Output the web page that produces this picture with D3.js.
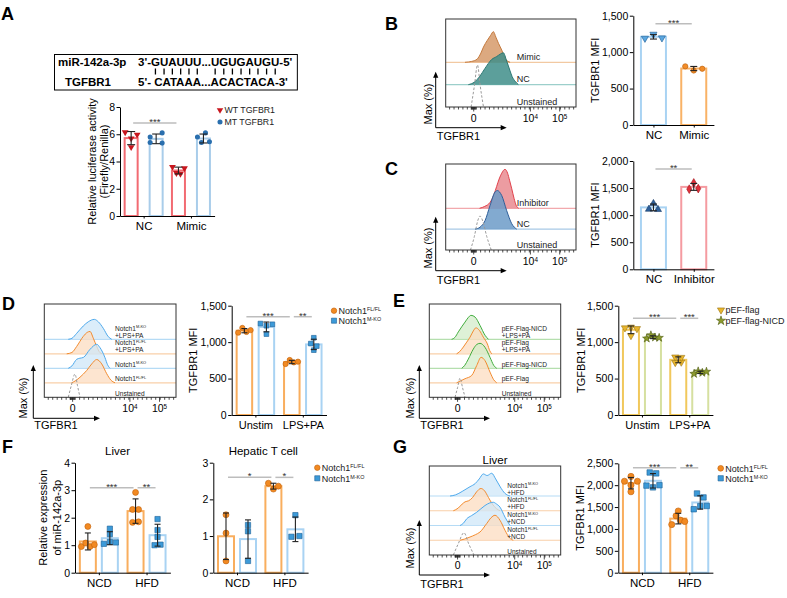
<!DOCTYPE html>
<html><head><meta charset="utf-8">
<script src="https://cdn.jsdelivr.net/npm/d3@7"></script>
<style>html,body{margin:0;padding:0;background:#fff;}svg{display:block;}</style>
</head><body>
<svg id="fig" width="787" height="598" xmlns="http://www.w3.org/2000/svg"></svg>
<script>
const FONT = '"Liberation Sans", Arial, Helvetica, sans-serif';

/* ================= DATA ================= */
const panelLetters = ["A","B","C","D","E","F","G"];

// Panel A
const aGroups = ["NC", "Mimic"];
const aSeries = ["WT TGFBR1", "MT TGFBR1"];
const aWT = [[6.15, 5.05, 5.7, 5.97], [3.6, 3.15, 3.1, 3.5]];
const aMT = [[5.8, 5.4, 6.1, 5.35], [5.8, 5.4, 6.1, 5.45]];
const aTicks = [0, 2, 4, 6, 8];
const aYLabel = ["Relative luciferase activity", "(Firefly/Renilla)"];
const seqMiRName = "miR-142a-3p";
const seqMiR = "3'-GUAUUU...UGUGAUGU-5'";
const seqTgtName = "TGFBR1";
const seqTgt = "5'- CATAAA...ACACTACA-3'";
const seqPairIdx = [3,4,5,6,7,8,12,13,14,15,16,17,18,19];

// Flow axis
const flowTickLabels = ["0", "10^4", "10^5"];
const flowTickPos = [21.5, 65, 87.5];
const flowXLabel = "TGFBR1";
const flowYLabel = "Max (%)";

// Panel B
const bRows = ["Mimic", "NC", "Unstained"];
const bPeaks = [73, 76, 100];
const bMimicHist = [[14.8,0],[20,0.03],[24,0.1],[27,0.3],[29,0.5],[32,0.72],[34.5,0.88],[36.6,1],[38.5,0.82],[40.5,0.62],[43,0.4],[45.5,0.13],[47.5,0.04],[49.4,0]];
const bNCHist = [[17.4,0],[22,0.08],[26.3,0.27],[30,0.5],[35.3,0.79],[39.1,0.88],[42,0.96],[44.2,1],[46.8,0.74],[49.4,0.43],[51,0.25],[53.2,0.11],[55.8,0]];
const bUnstHist = [[19.5,0],[22,0.5],[24.4,1],[26.5,0.5],[29,0]];
const bGroups = ["NC", "Mimic"];
const bVals = [[1190, 1245, 1195], [805, 748, 772]];
const mfiTicks1500 = [0, 500, 1000, 1500];

// Panel C
const cRows = ["Inhibitor", "NC", "Unstained"];
const cPeaks = [100, 99, 87];
const cInhHist = [[26,0],[30,0.05],[34,0.15],[37,0.35],[39.1,0.56],[41,0.75],[43,0.9],[45.5,1],[47.5,0.9],[49,0.72],[50.7,0.5],[52.5,0.25],[54,0.08],[56,0]];
const cNCHist = [[22.5,0],[26.3,0.05],[30.2,0.22],[34,0.61],[37.8,0.96],[39.6,1],[43,0.87],[46.8,0.48],[50.7,0.14],[54.5,0]];
const cUnstHist = [[19,0],[22,0.4],[24.5,0.85],[26.3,1],[28.5,0.85],[31.5,0.4],[35,0]];
const cGroups = ["NC", "Inhibitor"];
const cVals = [[1110, 1215, 1105], [1595, 1480, 1490]];
const mfiTicks2000 = [0, 500, 1000, 1500, 2000];

// Panel D
const dRowLabels = [["Notch1^M-KO","+LPS+PA"],["Notch1^FL/FL","+LPS+PA"],["Notch1^M-KO"],["Notch1^FL/FL"],["Unstained"]];
const dPeaks = [83, 93, 100, 97, 97];
const dHists = [
  [[18.2,0],[21,0.05],[24.6,0.3],[29.6,0.67],[33.4,0.88],[38,1],[41,0.88],[44.8,0.55],[48.6,0.13],[51.2,0]],
  [[17,0],[21,0.06],[24.6,0.33],[29.6,0.78],[32.6,0.96],[34.7,1],[37.2,0.7],[39.8,0.33],[42.3,0.05],[44,0]],
  [[18.2,0],[21,0.1],[24.6,0.375],[27,0.42],[29.6,0.45],[34.7,0.79],[39.8,1],[42.3,0.86],[46.1,0.44],[48,0.15],[49.9,0]],
  [[20.8,0],[24,0.1],[27.1,0.24],[32.2,0.53],[36,0.81],[39.8,1],[43.6,0.81],[47.4,0.39],[50.5,0.12],[53.7,0]],
  [[18.2,0],[20.5,0.5],[23.3,1],[25.2,0.5],[27.1,0]]
];
const dGroups = ["Unstim", "LPS+PA"];
const dLegend = ["Notch1^FL/FL", "Notch1^M-KO"];
const dFL = [[1130, 1195, 1140, 1165], [700, 755, 722, 732]];
const dMKO = [[1255, 1225, 1110, 1245], [890, 1060, 980, 945]];

// Panel E
const eRowLabels = [["pEF-Flag-NICD","+LPS+PA"],["pEF-Flag","+LPS+PA"],["pEF-Flag-NICD"],["pEF-Flag"],["Unstained"]];
const ePeaks = [92, 100, 96, 98, 74];
const eHists = [
  [[17,0],[19.5,0.08],[22.1,0.31],[25,0.55],[27.2,0.72],[29.5,0.9],[31.7,1],[34.8,0.93],[38.6,0.58],[42.4,0.17],[45,0]],
  [[20.8,0],[23,0.08],[25.9,0.26],[28.5,0.45],[31,0.64],[33.5,0.88],[35.5,1],[38.1,0.9],[41.1,0.64],[44.2,0.38],[46,0.12],[47.5,0]],
  [[24.7,0],[27,0.12],[29.7,0.37],[33.5,0.77],[36,0.95],[38.6,1],[42.4,0.84],[46.2,0.44],[49,0.12],[51.3,0]],
  [[20.8,0],[24,0.08],[27.2,0.16],[32.3,0.29],[36.1,0.68],[39.4,1],[42.4,0.87],[46.2,0.42],[49,0.12],[51.3,0]],
  [[19.6,0],[21.5,0.5],[23.4,1],[25.3,0.5],[27.2,0]]
];
const eGroups = ["Unstim", "LPS+PA"];
const eLegend = ["pEF-flag", "pEF-flag-NICD"];
const eFlag = [[1195, 1205, 1185, 1090], [795, 720, 725, 790]];
const eNICD = [[1050, 1095, 1065, 1060], [565, 600, 580, 595]];

// Panel F
const fGroups = ["NCD", "HFD"];
const fTitles = ["Liver", "Hepatic T cell"];
const fYLabel = ["Relative expression", "of miR-142a-3p"];
const fLiverFL = [[0.95, 1.08, 1.68, 0.95, 1.02], [1.83, 2.3, 2.92, 2.3, 1.85]];
const fLiverMKO = [[1.05, 1.6, 1.4, 1.12, 1.1], [1.0, 1.95, 1.55, 1.3, 1.02]];
const fTicksLiver = [0, 1, 2, 3, 4];
const fTcellFL = [[1.58, 1.08, 0.32], [2.44, 2.28, 2.36]];
const fTcellMKO = [[1.3, 1.13, 0.32], [0.98, 1.57, 1.0]];
const fTicksTcell = [0, 1, 2, 3];

// Panel G
const gTitle = "Liver";
const gRowLabels = [["Notch1^M-KO","+HFD"],["Notch1^FL/FL","+HFD"],["Notch1^M-KO","+NCD"],["Notch1^FL/FL","+NCD"],["Unstained"]];
const gPeaks = [91, 89, 93, 100, 89];
const gHists = [
  [[15.8,0],[20,0.05],[25,0.2],[31,0.41],[35,0.55],[38,0.75],[41.1,0.97],[44,0.9],[47.5,1],[50.5,0.75],[54,0.4],[57.5,0.12],[61.4,0]],
  [[18.3,0],[22,0.12],[25,0.3],[27.2,0.4],[30,0.45],[33,0.6],[36,0.85],[39.3,1],[42,0.9],[45,0.6],[48,0.3],[51,0.1],[53.8,0]],
  [[23.4,0],[26,0.1],[28.5,0.29],[32,0.42],[36.1,0.57],[42.4,0.86],[46,0.97],[48.7,1],[51,0.93],[53.8,0.79],[57.6,0.36],[61.4,0]],
  [[23.4,0],[27,0.05],[31,0.13],[35,0.22],[38.6,0.33],[43.7,0.67],[47,0.9],[50,1],[53.8,0.8],[57.6,0.4],[61,0.1],[63.9,0]],
  [[18.3,0],[22,0.5],[26.4,1],[30,0.5],[34,0]]
];
const gGroups = ["NCD", "HFD"];
const gFL = [[2090, 2000, 2090, 2200, 1850], [1100, 1410, 1300, 1200, 1170]];
const gMKO = [[2290, 2270, 1990, 1950, 2000], [1810, 1720, 1450, 1520, 1525]];
const gTicks = [0, 500, 1000, 1500, 2000, 2500];

/* ================= HELPERS ================= */
const svg = d3.select("#fig").attr("font-family", FONT);

function rich(sel, str, fs){
  const parts = str.split("^");
  sel.append("tspan").text(parts[0]);
  if (parts.length > 1) sel.append("tspan").attr("font-size", fs*0.6).attr("dy", -fs*0.33).text(parts[1]);
  return sel;
}
const SYM = {
  triDown:[d3.symbolTriangle,180], triUp:[d3.symbolTriangle,0], circle:[d3.symbolCircle,0],
  square:[d3.symbolSquare,0], diamond:[d3.symbolDiamond,0], star:[d3.symbolStar,0]
};
function marker(g, kind, x, y, size, fill, stroke){
  const [t, r] = SYM[kind];
  return g.append("path").attr("d", d3.symbol(t, size)())
    .attr("transform", `translate(${x},${y}) rotate(${r})`)
    .attr("fill", fill).attr("stroke", stroke || "none").attr("stroke-width", 0.6);
}
function swarm(vals, y, thr, mMax, spread){
  const order = d3.range(vals.length).sort((a,b)=>vals[a]-vals[b]);
  const off = vals.map(()=>0);
  let cl = [order[0]];
  const flush = () => {
    const c = cl.slice().sort((a,b)=>a-b), k = c.length;
    const m = k > 1 ? Math.min(mMax, spread/(k-1)) : 0;
    c.forEach((id,i)=>off[id]=(i-(k-1)/2)*m);
  };
  for (let i=1;i<order.length;i++){
    if (Math.abs(y(vals[order[i]]) - y(vals[order[i-1]])) < thr) cl.push(order[i]);
    else { flush(); cl = [order[i]]; }
  }
  flush();
  return off;
}

function barChart(c){
  const g = svg.append("g");
  const x = d3.scalePoint().domain(c.groups).range(c.xr).padding(0.5);
  const sNames = Array.from(new Set(c.bars.map(b=>b.s)));
  const s = d3.scalePoint().domain(sNames).range([-c.dist, c.dist]);
  const y = d3.scaleLinear().domain([0, d3.max(c.ticks)]).range(c.yr);
  const cx = b => x(b.g) + s(b.s);
  c.bars.forEach(b=>{
    const m = d3.mean(b.values);
    g.append("rect").attr("x", cx(b)-c.bw/2+1).attr("y", y(m)).attr("width", c.bw-2).attr("height", y(0)-y(m))
      .attr("fill","#fff").attr("stroke", b.bar).attr("stroke-width", 2);
  });
  const ya = g.append("g").attr("transform",`translate(${c.xr[0]},0)`)
    .call(d3.axisLeft(y).tickValues(c.ticks).tickFormat(c.fmt || d3.format(",")).tickSize(3.5).tickSizeOuter(0).tickPadding(1.5));
  const xa = g.append("g").attr("transform",`translate(0,${c.yr[0]})`)
    .call(d3.axisBottom(x).tickSize(2.5).tickSizeOuter(0).tickPadding(3.5));
  [ya, xa].forEach(a=>{
    a.attr("font-family", FONT).attr("font-size", 10.5);
    a.selectAll("path,line").attr("stroke","#000").attr("stroke-width",1);
    a.selectAll("text").attr("fill","#000");
  });
  xa.attr("font-size", c.xfs || 11.5);
  c.bars.forEach(b=>{
    const m = d3.mean(b.values), sd = d3.deviation(b.values);
    const off = swarm(b.values, y, c.thr, c.m, c.spread);
    b.values.forEach((v,i)=> marker(g, b.marker, cx(b)+off[i], y(v), c.size, b.fill, b.stroke));
    const e = g.append("g").attr("stroke", "#222").attr("stroke-width", 1.1);
    e.append("line").attr("x1",cx(b)).attr("x2",cx(b)).attr("y1",y(m-sd)).attr("y2",y(m+sd));
    [m-sd, m+sd].forEach(v=> e.append("line").attr("x1",cx(b)-c.cap).attr("x2",cx(b)+c.cap).attr("y1",y(v)).attr("y2",y(v)));
  });
  (c.sigs||[]).forEach(sg=>{
    const x1 = x(sg.from[0]) + s(sg.from[1]) + 2, x2 = x(sg.to[0]) + s(sg.to[1]) - 2, yy = y(sg.y);
    g.append("line").attr("x1",x1).attr("x2",x2).attr("y1",yy).attr("y2",yy).attr("stroke","#bdbdbd").attr("stroke-width",1.5);
    g.append("text").attr("x",(x1+x2)/2).attr("y",yy+1.8).attr("text-anchor","middle").attr("font-size",9.5).attr("fill","#333").text(sg.label);
  });
  if (c.legend){
    c.legend.items.forEach((it,i)=>{
      const ly = c.legend.y + i*c.legend.dy;
      marker(g, it.marker, c.legend.x, ly, it.size, it.fill, it.stroke);
      rich(g.append("text").attr("x", c.legend.x+4.5).attr("y", ly+3.2).attr("font-size", c.legend.fs).attr("fill","#222"), it.label, c.legend.fs);
    });
  }
  (c.ylab||[]).forEach((t,i)=> g.append("text")
    .attr("transform",`translate(${c.ylabX[i]},${(c.yr[0]+c.yr[1])/2}) rotate(-90)`)
    .attr("text-anchor","middle").attr("dominant-baseline","central").attr("font-size", c.ylfs || 11).text(t));
  if (c.title) g.append("text").attr("x", c.title.x).attr("y", c.title.y).attr("text-anchor","middle").attr("font-size",11.5).text(c.title.text);
}

const HS = {
  bMimic:{fill:"#d69a6a", stroke:"#c47a3e", base:"#f2c9a2"},
  bNC:{fill:"#3f8e89", stroke:"#2c7772", base:"#9ccfcb"},
  cInh:{fill:"#e98b90", stroke:"#e0414b", base:"#f2a9ad"},
  cNC:{fill:"#6c9bc8", stroke:"#2f5f99", base:"#a7c9e6"},
  blue:{fill:"#cfe7f8", stroke:"#4ea9ec", base:"#b5dbf5"},
  orange:{fill:"#fcdcc0", stroke:"#f28b2f", base:"#f9cfa8"},
  green:{fill:"#d3ecca", stroke:"#41ad3d", base:"#b5dfae"},
  unst:{}
};
const flowMinor = d3.range(3, 100, 3.4).concat(d3.range(19.6, 23.6, 0.5));

function flowPanel(c){
  const g = svg.append("g");
  const [x0,y0,x1,y1] = c.box;
  const xs = d3.scaleLinear().domain([0,100]).range([x0,x1]);
  const rowY = d3.scalePoint().domain(d3.range(c.rows.length)).range([c.firstBase, y1]);
  const hs = d3.scaleLinear().domain([0,100]).range([0,c.H]);
  const cid = "clip"+c.id;
  svg.append("defs").append("clipPath").attr("id",cid).append("rect")
    .attr("x",x0).attr("y",y0).attr("width",x1-x0).attr("height",y1-y0);
  const inner = g.append("g").attr("clip-path",`url(#${cid})`);
  c.rows.forEach((r,i)=>{
    const base = rowY(i), st = HS[r.style];
    const yv = d => base - hs(d[1]*r.peak);
    if (r.style === "unst"){
      inner.append("path").attr("d", d3.line().x(d=>xs(d[0])).y(yv).curve(d3.curveMonotoneX)(r.shape))
        .attr("fill","none").attr("stroke","#9a9a9a").attr("stroke-width",1).attr("stroke-dasharray","2.5,1.8");
    } else {
      inner.append("line").attr("x1",x0).attr("x2",x1).attr("y1",base).attr("y2",base).attr("stroke",st.base).attr("stroke-width",1.2);
      inner.append("path").attr("d", d3.area().x(d=>xs(d[0])).y0(base).y1(yv).curve(d3.curveMonotoneX)(r.shape))
        .attr("fill",st.fill).attr("fill-opacity",c.fo);
      inner.append("path").attr("d", d3.line().x(d=>xs(d[0])).y(yv).curve(d3.curveMonotoneX)(r.shape))
        .attr("fill","none").attr("stroke",st.stroke).attr("stroke-width",1);
    }
    const te = g.append("text").attr("font-size",c.lblFS).attr("fill","#222");
    r.label.forEach((t,j)=>{
      const ty = base - c.lblOff - (r.label.length-1-j)*c.lblLH;
      const parts = t.split("^");
      te.append("tspan").attr("x",c.lblX).attr("y",ty).text(parts[0]);
      if (parts.length > 1) te.append("tspan").attr("font-size",c.lblFS*0.6).attr("dy",-c.lblFS*0.33).text(parts[1]);
    });
  });
  g.append("rect").attr("x",x0).attr("y",y0).attr("width",x1-x0).attr("height",y1-y0)
    .attr("fill","none").attr("stroke","#333").attr("stroke-width",1);
  const tg = g.append("g").attr("stroke","#222").attr("stroke-width",0.8);
  flowMinor.forEach(p=> tg.append("line").attr("x1",xs(p)).attr("x2",xs(p)).attr("y1",y1).attr("y2",y1+2.5));
  flowTickPos.forEach((p,i)=>{
    tg.append("line").attr("x1",xs(p)).attr("x2",xs(p)).attr("y1",y1).attr("y2",y1+4.5);
    rich(g.append("text").attr("x",xs(p)).attr("y",y1+c.tickLblOff).attr("text-anchor","middle").attr("font-size",10.5), flowTickLabels[i], 10.5);
  });
  const a = c.arrow, ag = g.append("g");
  ag.append("line").attr("x1",a.x).attr("x2",a.x).attr("y1",a.yb).attr("y2",a.yt+4).attr("stroke","#000").attr("stroke-width",1);
  ag.append("path").attr("d",`M${a.x-2.6},${a.yt+6}L${a.x},${a.yt}L${a.x+2.6},${a.yt+6}Z`).attr("fill","#000");
  ag.append("line").attr("x1",a.x).attr("x2",a.xe-4).attr("y1",a.yb).attr("y2",a.yb).attr("stroke","#000").attr("stroke-width",1);
  ag.append("path").attr("d",`M${a.xe-6},${a.yb-2.6}L${a.xe},${a.yb}L${a.xe-6},${a.yb+2.6}Z`).attr("fill","#000");
  g.append("text").attr("transform",`translate(${c.maxX},${c.maxY}) rotate(-90)`).attr("text-anchor","middle")
    .attr("dominant-baseline","central").attr("font-size",11).text(flowYLabel);
  g.append("text").attr("x",a.x+1).attr("y",c.axLblY).attr("font-size",11).text(flowXLabel);
  if (c.title) g.append("text").attr("x",c.title.x).attr("y",c.title.y).attr("text-anchor","middle").attr("font-size",11.5).text(c.title.text);
}

/* ================= PANEL LETTERS ================= */
const letterPos = [[1,20],[385,30],[385,175],[2,310],[393,307],[2,453],[393,453]];
panelLetters.forEach((L,i)=> svg.append("text").attr("x",letterPos[i][0]).attr("y",letterPos[i][1])
  .attr("font-size",18).attr("font-weight","bold").text(L));

/* ================= PANEL A ================= */
(function(){
  const sg = svg.append("g").attr("font-weight","bold").attr("font-size",11.5);
  sg.append("text").attr("x",58).attr("y",66).text(seqMiRName);
  const top = sg.append("text").attr("x",138).attr("y",66).text(seqMiR);
  sg.append("text").attr("x",65).attr("y",86).text(seqTgtName);
  const bot = sg.append("text").attr("x",138).attr("y",86).text(seqTgt);
  const right = 138 + Math.max(top.node().getComputedTextLength(), bot.node().getComputedTextLength()) + 5;
  sg.append("rect").attr("x",54.5).attr("y",54.5).attr("width",right-54.5).attr("height",35.5)
    .attr("fill","none").attr("stroke","#000").attr("stroke-width",1);
  seqPairIdx.forEach(i=>{
    const r = top.node().getExtentOfChar(i), xm = r.x + r.width/2;
    sg.append("line").attr("x1",xm).attr("x2",xm).attr("y1",68.5).attr("y2",74.5).attr("stroke","#000").attr("stroke-width",1.3);
  });
})();

barChart({
  groups:aGroups, xr:[120,214.6], yr:[216,107], ticks:aTicks, fmt:d3.format("d"),
  dist:12.5, bw:15, thr:5, m:12, spread:12, cap:4, size:20,
  bars: aGroups.flatMap((gn,gi)=>[
    {g:gn, s:"WT", values:aWT[gi], bar:"#f26b72", marker:"triDown", fill:"#c8161e"},
    {g:gn, s:"MT", values:aMT[gi], bar:"#a9cdea", marker:"circle", fill:"#2a6fae"}]),
  sigs:[{from:["NC","WT"], to:["Mimic","WT"], label:"***", y:6.83}],
  legend:{x:220, y:110, dy:12, fs:8.8, items:[
    {marker:"triDown", fill:"#c8161e", size:18, label:aSeries[0]},
    {marker:"circle", fill:"#2a6fae", size:20, label:aSeries[1]}]},
  ylab:aYLabel, ylabX:[92,104], ylfs:11
});

/* ================= PANEL B ================= */
flowPanel({id:"B", box:[445.7,19,576,107], firstBase:62.3, H:42, fo:0.85,
  rows: bRows.map((n,i)=>({label:[n], shape:[bMimicHist,bNCHist,bUnstHist][i], peak:bPeaks[i], style:["bMimic","bNC","unst"][i]})),
  lblX:516.7, lblFS:9, lblOff:2.2, lblLH:0, tickLblOff:15,
  arrow:{x:435.7, yb:127.7, yt:71.7, xe:506.7}, maxX:428, maxY:104, axLblY:140});
barChart({
  groups:bGroups, xr:[633.3,713.9], yr:[125,15.7], ticks:mfiTicks1500, dist:0, bw:27, thr:4, m:9, spread:17, cap:3.5, size:22,
  bars:[{g:"NC", s:"", values:bVals[0], bar:"#a9d3f3", marker:"triDown", fill:"#5aa6df", stroke:"#1d5a92"},
        {g:"Mimic", s:"", values:bVals[1], bar:"#f9b266", marker:"circle", fill:"#f28c28", stroke:"#b85e0a"}],
  sigs:[{from:["NC",""], to:["Mimic",""], label:"***", y:1390}],
  ylab:["TGFBR1 MFI"], ylabX:[595]
});

/* ================= PANEL C ================= */
flowPanel({id:"C", box:[445.7,164,576,250], firstBase:208.3, H:39, fo:0.85,
  rows: cRows.map((n,i)=>({label:[n], shape:[cInhHist,cNCHist,cUnstHist][i], peak:cPeaks[i], style:["cInh","cNC","unst"][i]})),
  lblX:516.7, lblFS:9, lblOff:2.5, lblLH:0, tickLblOff:15,
  arrow:{x:435.7, yb:270.7, yt:216.7, xe:506.7}, maxX:428, maxY:248, axLblY:283.5});
barChart({
  groups:cGroups, xr:[633.3,713.9], yr:[269.3,161], ticks:mfiTicks2000, dist:0, bw:27, thr:4, m:9, spread:17, cap:3.5, size:22,
  bars:[{g:"NC", s:"", values:cVals[0], bar:"#a9d3f3", marker:"triUp", fill:"#2d5f99", stroke:"#1a3d6a"},
        {g:"Inhibitor", s:"", values:cVals[1], bar:"#f59ba1", marker:"diamond", fill:"#e0303a", stroke:"#a01018"}],
  sigs:[{from:["NC",""], to:["Inhibitor",""], label:"**", y:1852}],
  ylab:["TGFBR1 MFI"], ylabX:[595]
});

/* ================= PANEL D ================= */
flowPanel({id:"D", box:[44.3,304,176,397.3], firstBase:339.3, H:24, fo:0.75,
  rows: dRowLabels.map((l,i)=>({label:l, shape:dHists[i], peak:dPeaks[i], style:["blue","orange","blue","orange","unst"][i]})),
  lblX:115, lblFS:6.6, lblOff:1.8, lblLH:7, tickLblOff:15,
  arrow:{x:33.3, yb:418.3, yt:365, xe:100}, maxX:23.3, maxY:398, axLblY:429});
barChart({
  groups:dGroups, xr:[231.7,326.5], yr:[415,305.7], ticks:mfiTicks1500, dist:11, bw:17.5, thr:4, m:6, spread:12.4, cap:3, size:22,
  bars: dGroups.flatMap((gn,gi)=>[
    {g:gn, s:"FL", values:dFL[gi], bar:"#f9ae5e", marker:"circle", fill:"#f28a22", stroke:"#c0600a"},
    {g:gn, s:"MKO", values:dMKO[gi], bar:"#a9d3f3", marker:"square", fill:"#3c9ad8", stroke:"#1d5f96"}]),
  sigs:[{from:["Unstim","FL"], to:["LPS+PA","FL"], label:"***", y:1349},
        {from:["LPS+PA","FL"], to:["LPS+PA","MKO"], label:"**", y:1349}],
  legend:{x:334, y:310.7, dy:10, fs:9, items:[
    {marker:"circle", fill:"#f28a22", stroke:"#c0600a", size:24, label:dLegend[0]},
    {marker:"square", fill:"#3c9ad8", stroke:"#1d5f96", size:26, label:dLegend[1]}]},
  ylab:["TGFBR1 MFI"], ylabX:[192.7], xfs:11
});

/* ================= PANEL E ================= */
flowPanel({id:"E", box:[429.3,304,560.7,397.3], firstBase:339.3, H:26, fo:0.75,
  rows: eRowLabels.map((l,i)=>({label:l, shape:eHists[i], peak:ePeaks[i], style:["green","orange","green","orange","unst"][i]})),
  lblX:501.7, lblFS:6.6, lblOff:1.8, lblLH:7, tickLblOff:15,
  arrow:{x:419.3, yb:418.3, yt:365, xe:490}, maxX:410, maxY:398, axLblY:429});
barChart({
  groups:eGroups, xr:[618.3,712.9], yr:[415,305.7], ticks:mfiTicks1500, dist:11, bw:18, thr:4, m:6, spread:12.4, cap:3, size:22,
  bars: eGroups.flatMap((gn,gi)=>[
    {g:gn, s:"flag", values:eFlag[gi], bar:"#f1c85c", marker:"triDown", fill:"#e8b52c", stroke:"#9a7412"},
    {g:gn, s:"NICD", values:eNICD[gi], bar:"#d6e0a0", marker:"star", fill:"#8c9a2c", stroke:"#4e5a10"}]),
  sigs:[{from:["Unstim","flag"], to:["LPS+PA","flag"], label:"***", y:1327},
        {from:["LPS+PA","flag"], to:["LPS+PA","NICD"], label:"***", y:1327}],
  legend:{x:721, y:310, dy:10.7, fs:9, items:[
    {marker:"triDown", fill:"#e8b52c", stroke:"#9a7412", size:22, label:eLegend[0]},
    {marker:"star", fill:"#8c9a2c", stroke:"#4e5a10", size:26, label:eLegend[1]}]},
  ylab:["TGFBR1 MFI"], ylabX:[581], xfs:11
});

/* ================= PANEL F ================= */
const notchBars = (FL, MKO) => fGroups.flatMap((gn,gi)=>[
  {g:gn, s:"FL", values:FL[gi], bar:"#f9ae5e", marker:"circle", fill:"#f28a22", stroke:"#c0600a"},
  {g:gn, s:"MKO", values:MKO[gi], bar:"#a9d3f3", marker:"square", fill:"#3c9ad8", stroke:"#1d5f96"}]);
barChart({
  groups:fGroups, xr:[75,170.4], yr:[572.7,462.7], ticks:fTicksLiver, fmt:d3.format("d"),
  dist:11, bw:18, thr:4, m:6, spread:13, cap:3, size:28,
  bars: notchBars(fLiverFL, fLiverMKO),
  sigs:[{from:["NCD","FL"], to:["HFD","FL"], label:"***", y:3.09},
        {from:["HFD","FL"], to:["HFD","MKO"], label:"**", y:3.09}],
  ylab:fYLabel, ylabX:[42.7,56.7], ylfs:11,
  title:{x:117.5, y:455, text:fTitles[0]}
});
barChart({
  groups:fGroups, xr:[213.3,308.1], yr:[572.7,462.7], ticks:fTicksTcell, fmt:d3.format("d"),
  dist:11, bw:18, thr:4, m:8, spread:10, cap:3, size:28,
  bars: notchBars(fTcellFL, fTcellMKO),
  sigs:[{from:["NCD","FL"], to:["HFD","FL"], label:"*", y:2.6},
        {from:["HFD","FL"], to:["HFD","MKO"], label:"*", y:2.6}],
  legend:{x:317.3, y:467.7, dy:10.6, fs:9, items:[
    {marker:"circle", fill:"#f28a22", stroke:"#c0600a", size:24, label:dLegend[0]},
    {marker:"square", fill:"#3c9ad8", stroke:"#1d5f96", size:26, label:dLegend[1]}]},
  title:{x:263.3, y:455, text:fTitles[1]}
});

/* ================= PANEL G ================= */
flowPanel({id:"G", box:[429.3,466,560.7,555], firstBase:496, H:25, fo:0.75,
  rows: gRowLabels.map((l,i)=>({label:l, shape:gHists[i], peak:gPeaks[i], style:["blue","orange","blue","orange","unst"][i]})),
  lblX:507.3, lblFS:6.5, lblOff:1.5, lblLH:7, tickLblOff:14,
  arrow:{x:419.3, yb:575, yt:520, xe:490}, maxX:410, maxY:548, axLblY:587.5,
  title:{x:495, y:463.5, text:gTitle}});
barChart({
  groups:gGroups, xr:[618.3,712.9], yr:[572.7,463.3], ticks:gTicks,
  dist:11, bw:18, thr:4.5, m:6.5, spread:13, cap:3, size:30,
  bars: gGroups.flatMap((gn,gi)=>[
    {g:gn, s:"FL", values:gFL[gi], bar:"#f9ae5e", marker:"circle", fill:"#f28a22", stroke:"#c0600a"},
    {g:gn, s:"MKO", values:gMKO[gi], bar:"#a9d3f3", marker:"square", fill:"#3c9ad8", stroke:"#1d5f96"}]),
  sigs:[{from:["NCD","FL"], to:["HFD","FL"], label:"***", y:2397},
        {from:["HFD","FL"], to:["HFD","MKO"], label:"**", y:2397}],
  legend:{x:720.7, y:468.3, dy:10, fs:9, items:[
    {marker:"circle", fill:"#f28a22", stroke:"#c0600a", size:26, label:dLegend[0]},
    {marker:"square", fill:"#3c9ad8", stroke:"#1d5f96", size:28, label:dLegend[1]}]},
  ylab:["TGFBR1 MFI"], ylabX:[580], xfs:11.5
});
</script>
</body></html>
